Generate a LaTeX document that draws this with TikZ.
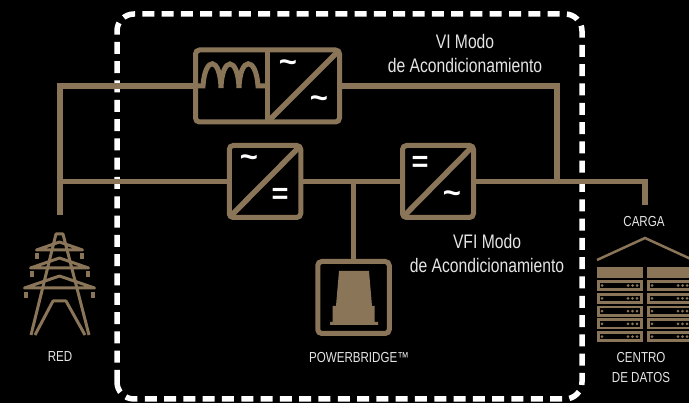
\documentclass[tikz,border=0pt]{standalone}
\usepackage{fontspec}
\setmainfont[FakeStretch=0.8]{Liberation Sans}
\newfontfamily\symfont{Liberation Sans}
\usetikzlibrary{calc}
\definecolor{tan}{HTML}{8A7558}
\tikzset{
  wire/.style={draw=tan,line width=5.5pt},
  convbox/.style={draw=tan,line width=5pt,rounded corners=4pt,outer sep=0pt,inner sep=0pt,minimum height=72pt},
  lbl/.style={text=white!90!black,font=\fontsize{19.6}{24}\selectfont,inner sep=0pt,align=center},
  smalllbl/.style={text=white!90!black,font=\fontsize{14.5}{20}\selectfont,inner sep=0pt,align=center},
  sym/.style={text=white,font=\symfont\bfseries\fontsize{31}{31}\selectfont,inner sep=0pt},
  eqsym/.style={text=white,font=\symfont\bfseries\fontsize{29}{29}\selectfont,inner sep=0pt},
  towerline/.style={draw=tan,line width=3pt,line join=round}
}
\begin{document}
\begin{tikzpicture}[x=1pt,y=-1pt]
  \useasboundingbox (0,0) rectangle (689,403);
  \clip (0,0) rectangle (689,403);
  \fill[black] (0,0) rectangle (689,403);

  \coordinate (a) at (60,215);
  \coordinate (b) at (60,86);
  \coordinate (c) at (557,86);
  \coordinate (d) at (58,181.5);
  \coordinate (e) at (557,181.5);
  \coordinate (f) at (645,181.5);
  \coordinate (g) at (645,205);
  \coordinate (h) at (353.5,181.5);

  % dashed frame
  \draw[white,line width=5.5pt,rounded corners=17pt,dash pattern=on 12pt off 7.3pt] (117,399) -- (117,14) -- (582,14) -- (582,399) -- cycle;

  \node[convbox,minimum width=144pt] (vi) at (267.5,86) {};
  \node[convbox,minimum width=71.5pt] (rect) at (265,181.5) {};
  \node[convbox,minimum width=71pt] (inv) at (438,181.5) {};
  \node[convbox,minimum width=71.5pt] (bat) at (353.5,297.5) {};

  % wires
  \draw[wire] (a) -- (b) -- (vi.west);
  \draw[wire] (vi.east) -- (c) -- (e);
  \draw[wire] (d) -- (rect.west);
  \draw[wire] (rect.east) -- (inv.west);
  \draw[wire] (inv.east) -- (f) -- (g);
  \draw[wire] (h) -- (bat.north);

  % inside the converters
  \draw[wire] (vi.north) -- (vi.south);
  \draw[wire] (vi.south) -- (vi.north east);
  \draw[wire] (rect.south west) -- (rect.north east);
  \draw[wire] (inv.south west) -- (inv.north east);
  \draw[draw=tan,line width=5pt] (vi.west) -- (203,86)
  .. controls (205,56) and (220,56) .. (221,88)
  .. controls (222,56) and (238,56) .. (239,88)
  .. controls (240,56) and (256,56) .. (258,86) -- (vi.center);

  \node[sym] (s1) at (288,66) {\char`~};
  \node[sym] (s2) at (319,102) {\char`~};
  \node[sym] (s3) at (249,161) {\char`~};
  \node[eqsym] (s4) at (280,196) {=};
  \node[eqsym] (s5) at (420,164) {=};
  \node[sym] (s6) at (452,197) {\char`~};

  % battery block
  \fill[tan] (330,325) -- (330,322) -- (332.5,322) -- (332.5,306) -- (336,306) -- (339,271) -- (369,271) -- (372,306) -- (374.5,306) -- (374.5,322) -- (378,322) -- (378,325) -- cycle;

  % tower
  \draw[towerline] (31,335) -- (56,234) -- (63,234) -- (89,335);
  \draw[towerline] (35,335) -- (53,301) -- (66,301) -- (85,335);
  \foreach \y/\w/\p in {250/23/8,268/29/10,288/35/12}{
    \draw[towerline] (59.5-\w,\y) -- (59.5+\w,\y) -- (59.5,\y-\p) -- cycle;
  }
  \foreach \x/\y in {37/256,82/256,32/274,88/274,26/295,93/295}{
    \fill[tan] (\x-2,\y-3) rectangle (\x+2,\y+3);
  }

  % data centre
  \draw[draw=tan,line width=2.5pt] (597,260) -- (645,238) -- (693,260);
  \foreach \x in {597,647}{
    \fill[tan] (\x,267) rectangle (\x+46,278);
    \foreach \y in {280,292.8,305.6,318.4,331.2}{
      \fill[tan] (\x,\y) rectangle (\x+46,\y+11);
      \fill[black] (\x+3,\y+2.8) rectangle (\x+43,\y+8.2);
      \fill[tan] (\x+5,\y+5.5) circle (1.5);
      \foreach \d in {31,35.5,40}{
        \fill[tan] (\x+\d,\y+5.5) circle (1.5);
      }
    }
  }

  % labels
  \node[lbl] (m1) at (465,53) {VI Modo\\de Acondicionamiento};
  \node[lbl] (m2) at (487,253) {VFI Modo\\de Acondicionamiento};
  \node[smalllbl] (red) at (60,357) {RED};
  \node[smalllbl] (pb) at (359,358) {POWERBRIDGE™};
  \node[smalllbl] (carga) at (644,222) {CARGA};
  \node[smalllbl] (cd) at (641,368) {CENTRO\\DE DATOS};
\end{tikzpicture}
\end{document}
